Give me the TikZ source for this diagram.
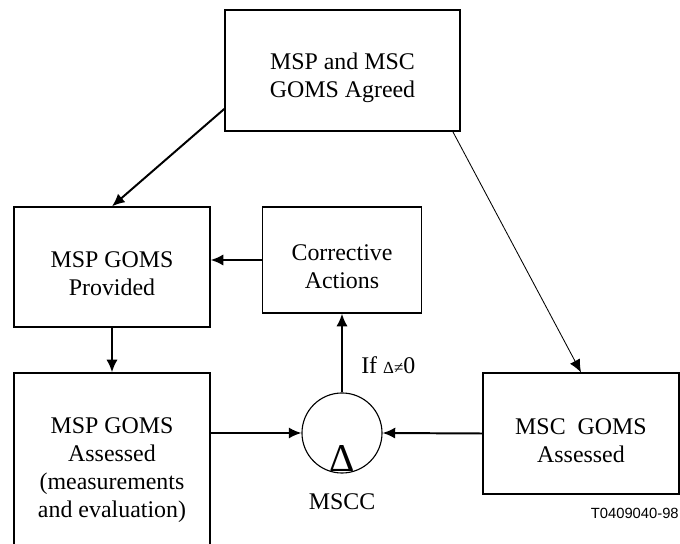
\documentclass[tikz,border=0pt]{standalone}
\usepackage{fontspec}
\setmainfont{Liberation Serif}
\newfontfamily\tagfont{Liberation Sans}
\usetikzlibrary{arrows.meta}
\tikzstyle{box} = [rectangle, draw, line width=0.9pt, inner sep=0pt]
\tikzstyle{boxtext} = [align=center, inner sep=0pt, yshift=-5pt, font=\fontsize{17}{19.8}\selectfont]
\tikzstyle{comparator} = [circle, draw, line width=0.8pt, minimum size=2cm, inner sep=0pt]
\tikzstyle{caption} = [font=\fontsize{17}{19.8}\selectfont]
\tikzstyle{arrow} = [line width=1.4pt, -{Latex[length=9pt,width=8pt]}]
\tikzstyle{thinarrow} = [line width=0.6pt, -{Latex[length=9pt,width=8pt]}]

\begin{document}
\begin{tikzpicture}[x=0.025cm, y=-0.025cm]
        \clip (0,0) rectangle (680,544);
        \node [box, minimum width=5.875cm, minimum height=3.025cm, label={[boxtext]center:MSP and MSC\\GOMS Agreed}] at (342.5,70.5) (agreed) {};
        \node [box, minimum width=4.9cm, minimum height=3cm, label={[boxtext]center:MSP GOMS\\Provided}] at (112,267) (provided) {};
        \node [box, minimum width=3.975cm, minimum height=2.65cm, label={[boxtext]center:Corrective\\Actions}] at (342,260) (corrective) {};
        \node [box, minimum width=4.9cm, minimum height=4.85cm, label={[boxtext, yshift=5pt]center:MSP GOMS\\Assessed\\(measurements\\and evaluation)}] at (112,470) (assessed) {};
        \node [box, minimum width=4.9cm, minimum height=3.025cm, label={[boxtext]center:MSC\ \ GOMS\\Assessed}] at (581,433.5) (msc) {};
        \node [comparator] at (342,433) (mscc) {};
        \node [anchor=base, inner sep=0pt, font=\fontsize{28}{28}\selectfont] at (342,472) (delta) {Δ};
        \node [caption] at (342,502) (mscclabel) {MSCC};
        \node [caption, anchor=base west, inner sep=0pt] at (361,374) (condition) {If {\fontsize{12}{12}\selectfont Δ≠}0};
        \node [anchor=base east, inner sep=0pt, font=\tagfont\fontsize{10.5}{12}\selectfont] at (679,519) (tag) {T0409040-98};
        \draw [arrow] (agreed.198) -- (provided.north);
        \draw [thinarrow] (agreed.331) -- (msc.north);
        \draw [arrow] (corrective.west) -- (corrective.west -| provided.east);
        \draw [arrow] (provided.south) -- (assessed.north);
        \draw [arrow] (mscc.west -| assessed.east) -- (mscc.west);
        \draw [arrow] (msc.west) -- (mscc.east);
        \draw [arrow] (mscc.north) -- (corrective.south);
\end{tikzpicture}
\end{document}
